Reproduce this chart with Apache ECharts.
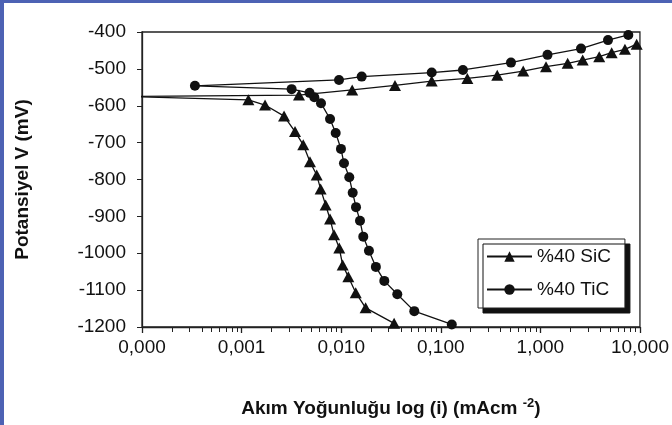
<!DOCTYPE html>
<html>
<head>
<meta charset="utf-8">
<script src="https://cdn.jsdelivr.net/npm/echarts@6/dist/echarts.min.js"></script>
<style>
  html, body { margin: 0; padding: 0; background: #fff; }
  #chart { width: 672px; height: 425px; }
</style>
</head>
<body>
<div id="chart"></div>
<script>
// current density (mA/cm2) and potential (mV) in scan order
var sicCurrent = [0.034, 0.0176, 0.0140, 0.0118, 0.01035, 0.00957, 0.00848, 0.00773, 0.00698, 0.00622,
    0.00568, 0.00486, 0.00416, 0.00344, 0.00267, 0.00172, 0.00117, 0.00008,
    0.00377, 0.0129, 0.0347, 0.0811, 0.185, 0.369, 0.673, 1.14, 1.88, 2.66, 3.90, 5.20, 7.07, 9.27];
var sicPotential = [-1190, -1148, -1107, -1064, -1032, -986, -950, -907, -869, -826,
    -788, -752, -706, -670, -628, -598, -584, -575,
    -571, -557, -545, -533, -526, -517, -506, -494, -485, -476, -467, -456, -447, -433];

var ticCurrent = [0.129, 0.0542, 0.0366, 0.0271, 0.0223, 0.0190, 0.01667, 0.01545, 0.01409, 0.01305,
    0.01206, 0.01067, 0.00995, 0.00881, 0.00773, 0.00627, 0.00537, 0.00481, 0.00318, 0.00034,
    0.00951, 0.01607, 0.0811, 0.167, 0.507, 1.18, 2.56, 4.78, 7.64];
var ticPotential = [-1193, -1157, -1111, -1075, -1037, -993, -955, -912, -875, -836,
    -794, -756, -717, -674, -636, -593, -577, -565, -555, -546,
    -530, -521, -510, -503, -483, -462, -445, -422, -408];

var seriesNames = ['%40 SiC', '%40 TiC'];
var xTickValues = [0.0001, 0.001, 0.01, 0.1, 1, 10];
var xTickLabels = ['0,000', '0,001', '0,010', '0,100', '1,000', '10,000'];

var font = 'Liberation Sans, Arial, sans-serif';
var xMin = 0.0001, xMax = 10;

function pairs(xs, ys) {
    return xs.map(function (x, i) {
        var item = { value: [x, ys[i]] };
        if (x < xMin) item.symbol = 'none';
        return item;
    });
}

// minor tick positions (2..9 in each decade) on a helper linear axis in log units
var minorTicks = [];
for (var d = -4; d < 1; d++) {
    for (var k = 2; k <= 9; k++) {
        minorTicks.push(Math.log10(k * Math.pow(10, d)));
    }
}

var chartDom = document.getElementById('chart');
var myChart = echarts.init(chartDom);

var option = {
    animation: false,
    backgroundColor: '#fff',
    textStyle: { fontFamily: font },
    graphic: [
        { type: 'rect', shape: { x: 0, y: 0, width: 672, height: 3 }, style: { fill: '#4d62b4' } },
        { type: 'rect', shape: { x: 0, y: 0, width: 4, height: 425 }, style: { fill: '#4d62b4' } }
    ],
    grid: {
        left: 142,
        right: 31,
        top: 32,
        bottom: 98,
        show: true,
        borderColor: '#222',
        borderWidth: 1.3,
        backgroundColor: '#fff'
    },
    legend: {
        orient: 'vertical',
        left: 478,
        top: 239,
        padding: [8, 14, 9, 8],
        itemGap: 14,
        itemWidth: 45,
        itemHeight: 13,
        backgroundColor: '#fff',
        borderColor: '#222',
        borderWidth: 1,
        shadowColor: '#111',
        shadowBlur: 0,
        shadowOffsetX: 5,
        shadowOffsetY: 5,
        textStyle: { fontFamily: font, fontSize: 19, color: '#111' },
        data: seriesNames
    },
    xAxis: [
        {
            type: 'log',
            logBase: 10,
            min: xMin,
            max: xMax,
            position: 'bottom',
            axisLine: { onZero: false, lineStyle: { color: '#222', width: 1.3 } },
            axisTick: { show: true, length: 6, lineStyle: { color: '#222', width: 1.3 } },
            splitLine: { show: false },
            axisLabel: {
                color: '#111',
                fontSize: 19,
                fontFamily: font,
                margin: 11,
                formatter: function (v) {
                    for (var i = 0; i < xTickValues.length; i++) {
                        if (Math.abs(Math.log10(v) - Math.log10(xTickValues[i])) < 1e-6) return xTickLabels[i];
                    }
                    return '';
                }
            },
            name: 'Akım Yoğunluğu log (i) (mAcm {sup|-2})',
            nameLocation: 'middle',
            nameGap: 70,
            nameTextStyle: {
                fontFamily: font,
                fontSize: 19,
                fontWeight: 'bold',
                color: '#111',
                rich: {
                    sup: { fontSize: 13, fontWeight: 'bold', color: '#111', verticalAlign: 'top', padding: [0, 0, 10, 0] }
                }
            }
        },
        {
            type: 'value',
            min: -4,
            max: 1,
            position: 'bottom',
            axisLine: { show: true, onZero: false, lineStyle: { color: 'rgba(0,0,0,0)' } },
            axisLabel: { show: false },
            splitLine: { show: false },
            axisTick: {
                show: true,
                length: 5,
                customValues: minorTicks,
                lineStyle: { color: '#222', width: 1 }
            }
        }
    ],
    yAxis: {
        type: 'value',
        min: -1200,
        max: -400,
        interval: 100,
        axisLine: { show: true, onZero: false, lineStyle: { color: '#222', width: 1.3 } },
        axisTick: { show: true, length: 5, lineStyle: { color: '#222' } },
        splitLine: { show: false },
        axisLabel: {
            color: '#111', fontSize: 19, fontFamily: font, margin: 16,
            formatter: function (v) { return String(v); }
        },
        name: 'Potansiyel V (mV)',
        nameLocation: 'middle',
        nameRotate: 90,
        nameGap: 110,
        nameTextStyle: { fontFamily: font, fontSize: 19, fontWeight: 'bold', color: '#111' }
    },
    series: [
        {
            name: seriesNames[0],
            type: 'line',
            xAxisIndex: 0,
            symbol: 'triangle',
            symbolSize: [12, 11],
            color: '#111',
            lineStyle: { color: '#111', width: 1.3 },
            itemStyle: { color: '#111' },
            clip: true,
            data: pairs(sicCurrent, sicPotential)
        },
        {
            name: seriesNames[1],
            type: 'line',
            xAxisIndex: 0,
            symbol: 'circle',
            symbolSize: 10,
            color: '#111',
            lineStyle: { color: '#111', width: 1.3 },
            itemStyle: { color: '#111' },
            clip: true,
            data: pairs(ticCurrent, ticPotential)
        }
    ]
};
myChart.setOption(option);
</script>
</body>
</html>
